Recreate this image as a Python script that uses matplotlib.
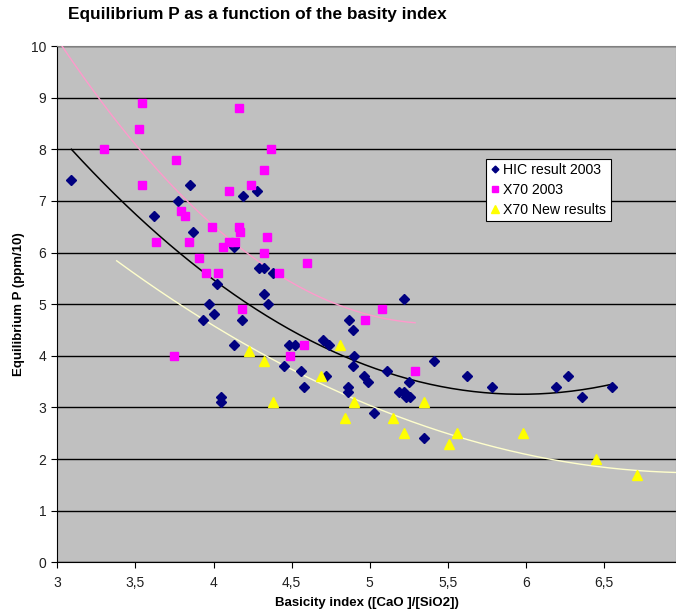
import numpy as np
import matplotlib.pyplot as plt

plt.rcParams['font.family'] = ['Liberation Sans', 'DejaVu Sans']

# HIC result 2003
hic_x = [3.09, 3.62, 3.77, 3.85, 3.87, 4.13, 4.19, 4.28, 4.29, 4.32, 4.38,
         4.02, 3.97, 4.32, 4.35, 3.93, 4.00, 4.18, 4.13, 4.05, 4.05, 4.45,
         4.48, 4.52, 4.56, 4.58, 4.70, 4.74, 4.72, 5.22, 4.87, 4.89, 4.90,
         4.89, 4.86, 4.86, 4.96, 4.99, 5.11, 5.03, 5.25, 5.19, 5.22, 5.23,
         5.26, 5.41, 5.35, 5.62, 5.78, 6.19, 6.27, 6.36, 6.55]
hic_y = [7.4, 6.7, 7.0, 7.3, 6.4, 6.1, 7.1, 7.2, 5.7, 5.7, 5.6,
         5.4, 5.0, 5.2, 5.0, 4.7, 4.8, 4.7, 4.2, 3.2, 3.1, 3.8,
         4.2, 4.2, 3.7, 3.4, 4.3, 4.2, 3.6, 5.1, 4.7, 4.5, 4.0,
         3.8, 3.4, 3.3, 3.6, 3.5, 3.7, 2.9, 3.5, 3.3, 3.3, 3.2,
         3.2, 3.9, 2.4, 3.6, 3.4, 3.4, 3.6, 3.2, 3.4]

# X70 2003
x70_x = [3.30, 3.54, 3.52, 3.54, 3.76, 3.79, 3.82, 3.63, 3.84, 3.91, 3.95,
         4.03, 3.99, 4.06, 4.10, 4.16, 4.16, 4.17, 4.10, 4.14, 4.24, 4.32,
         4.37, 4.34, 4.32, 4.42, 4.60, 4.18, 3.75, 4.49, 4.58, 5.08, 4.97,
         5.29]
x70_y = [8.0, 8.9, 8.4, 7.3, 7.8, 6.8, 6.7, 6.2, 6.2, 5.9, 5.6,
         5.6, 6.5, 6.1, 7.2, 8.8, 6.5, 6.4, 6.2, 6.2, 7.3, 7.6,
         8.0, 6.3, 6.0, 5.6, 5.8, 4.9, 4.0, 4.0, 4.2, 4.9, 4.7,
         3.7]

# X70 New results
new_x = [4.23, 4.32, 4.38, 4.69, 4.81, 4.90, 4.84, 5.15, 5.22, 5.35, 5.51,
         5.56, 5.98, 6.45, 6.71]
new_y = [4.1, 3.9, 3.1, 3.6, 4.2, 3.1, 2.8, 2.8, 2.5, 3.1, 2.3,
         2.5, 2.5, 2.0, 1.7]

# order-2 trendlines: start, middle, end
hic_trend_x = [3.09, 4.746, 6.551]
hic_trend_y = [8.0, 4.11, 3.45]
x70_trend_x = [3.03, 4.21, 5.29]
x70_trend_y = [10.0, 6.0, 4.64]
new_trend_x = [3.38, 5.024, 6.96]
new_trend_y = [5.84, 3.01, 1.74]

x_ticks = [3, 3.5, 4, 4.5, 5, 5.5, 6, 6.5]
x_tick_labels = ['3', '3,5', '4', '4,5', '5', '5,5', '6', '6,5']

fig = plt.figure(figsize=(6.76, 6.12), dpi=100)
ax = fig.add_axes([0.0848, 0.0812, 0.9152, 0.8436])
ax.set_facecolor('#C0C0C0')


def trend(tx, ty):
    c = np.polyfit(tx, ty, 2)
    t = np.linspace(tx[0], tx[-1], 200)
    return t, np.polyval(c, t)


t, v = trend(hic_trend_x, hic_trend_y)
ax.plot(t, v, color='black', lw=1.1, zorder=3)
t, v = trend(x70_trend_x, x70_trend_y)
ax.plot(t, v, color='#FF99CC', lw=1.0, zorder=3)
t, v = trend(new_trend_x, new_trend_y)
ax.plot(t, v, color='#FFFFCC', lw=1.0, zorder=3)

ax.plot(hic_x, hic_y, 'D', color='#000080', ms=4.6, ls='none',
        label='HIC result 2003', zorder=4)
ax.plot(x70_x, x70_y, 's', color='#FF00FF', ms=6.3, ls='none',
        label='X70 2003', zorder=4)
ax.plot(new_x, new_y, '^', color='#FFFF00', ms=7, ls='none',
        label='X70 New results', zorder=4)

ax.set_xlim(3, 6.96)
ax.set_ylim(0, 10)
ax.set_xticks(x_ticks)
ax.set_xticklabels(x_tick_labels)
ax.set_yticks(range(0, 11))
ax.yaxis.grid(True, color='black', lw=1.0)
ax.set_axisbelow(True)
ax.tick_params(labelsize=10, direction='out', length=4.5, color='black',
               colors='#202020')
ax.tick_params(axis='x', pad=5)
for s in ['top', 'right']:
    ax.spines[s].set_color('#808080')
ax.spines['left'].set_color('black')
ax.spines['bottom'].set_color('black')

ax.set_xlabel('Basicity index ([CaO ]/[SiO2])', fontsize=9.5,
              fontweight='bold', labelpad=5.5)
ax.set_ylabel('Equilibrium P (ppm/10)', fontsize=9.5, fontweight='bold',
              labelpad=4)
fig.text(0.1, 0.977, 'Equilibrium P as a function of the basity index',
         fontsize=12.4, fontweight='bold', va='center')

leg = ax.legend(loc='upper left', bbox_to_anchor=(0.6937, 0.781),
                fontsize=10.2, frameon=True, fancybox=False,
                handlelength=0.6, handletextpad=0.3, borderpad=0.3,
                labelspacing=0.42, borderaxespad=0, markerscale=0.75)
leg.get_frame().set_edgecolor('black')
leg.get_frame().set_linewidth(0.8)
leg.get_frame().set_alpha(1)

fig.savefig('out.png', dpi=100)
